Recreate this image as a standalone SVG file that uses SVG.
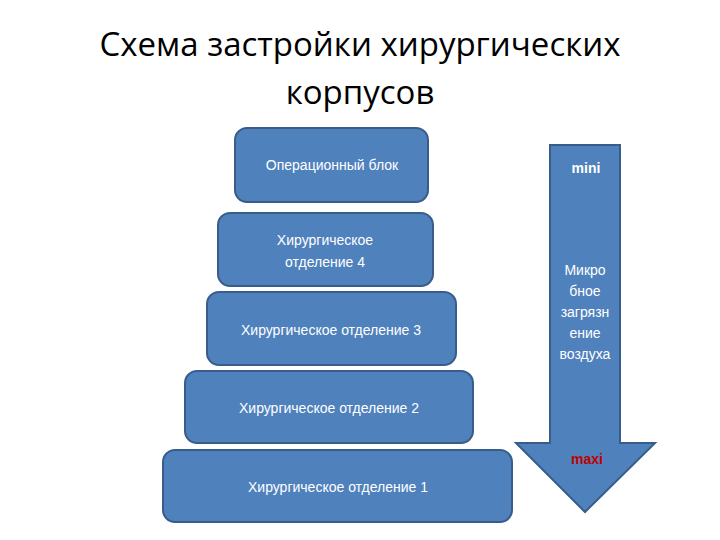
<svg xmlns="http://www.w3.org/2000/svg" width="720" height="540" viewBox="0 0 720 540">
<style>
.b{fill:#4f81bd;stroke:#385d8a;stroke-width:2}
.t{fill:#fff;font-family:"Liberation Sans",Arial,sans-serif;font-size:14px;text-anchor:middle}
.h{fill:#000;font-family:"Open Sans","Liberation Sans",sans-serif;font-size:33px;text-anchor:middle}
</style>
<rect width="720" height="540" fill="#fff"/>
<text class="h" x="360" y="56">Схема застройки хирургических</text>
<text class="h" x="360" y="104">корпусов</text>
<g id="arrow">
<path class="b" d="M550,145 H620 V443 H655 L585,512 L516,443 H550 Z"/>
<text class="t" x="586" y="173" font-weight="bold">mini</text>
<text class="t" x="585" y="275">Микро</text>
<text class="t" x="585" y="296">бное</text>
<text class="t" x="585" y="317">загрязн</text>
<text class="t" x="585" y="338">ение</text>
<text class="t" x="585" y="359">воздуха</text>
<text class="t" x="587" y="464" font-weight="bold" fill="#c00000" style="fill:#c00000">maxi</text>
</g>
<g id="n1"><rect class="b" x="235" y="128" width="193" height="74" rx="12"/><text class="t" x="332" y="170">Операционный блок</text></g>
<g id="n2"><rect class="b" x="218" y="213" width="215" height="73" rx="12"/><text class="t" x="325" y="245">Хирургическое</text><text class="t" x="325" y="267">отделение  4</text></g>
<g id="n3"><rect class="b" x="207" y="292" width="249" height="73" rx="12"/><text class="t" x="331" y="335">Хирургическое отделение 3</text></g>
<g id="n4"><rect class="b" x="185" y="371" width="288" height="72" rx="12"/><text class="t" x="329" y="413">Хирургическое отделение 2</text></g>
<g id="n5"><rect class="b" x="163" y="450" width="349" height="72" rx="12"/><text class="t" x="338" y="492">Хирургическое отделение 1</text></g>
<g id="connectors"/>
</svg>
